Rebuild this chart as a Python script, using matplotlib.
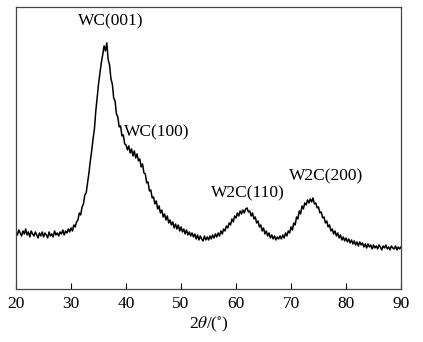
import numpy as np
import matplotlib.pyplot as plt

plt.rcParams['font.family'] = ['Liberation Serif', 'DejaVu Serif']
plt.rcParams['mathtext.fontset'] = 'stix'

# 2theta grid, 0.25 deg steps from 20 to 90
two_theta = np.arange(20, 90.001, 0.25)

# intensity (arb. units)
intensity = [
    57, 54, 59, 56, 53, 58, 55, 60, 54, 57, 52, 58, 55, 53, 57, 54, 51, 56, 53, 57,
    52, 56, 54, 51, 57, 53, 55, 52, 58, 54, 56, 53, 57, 55, 59, 54, 58, 56, 60, 57,
    61, 58, 64, 62, 67, 69, 76, 74, 82, 85, 94, 96, 106, 116, 128, 138, 150, 160, 178, 192,
    205, 216, 226, 234, 243, 238, 246, 229, 224, 210, 205, 191, 188, 175, 172, 162, 163, 153, 154, 145,
    144, 139, 143, 136, 140, 133, 138, 131, 135, 128, 130, 122, 125, 116, 115, 106, 107, 98, 99, 91,
    92, 85, 88, 80, 83, 76, 79, 72, 75, 69, 73, 66, 69, 64, 67, 61, 65, 60, 64, 58,
    62, 57, 60, 55, 59, 54, 57, 53, 56, 52, 55, 50, 54, 49, 53, 50, 48, 53, 49, 52,
    49, 53, 50, 54, 51, 55, 52, 56, 53, 58, 55, 60, 58, 63, 61, 66, 64, 70, 67, 73,
    71, 76, 73, 78, 75, 79, 76, 80, 81, 77, 78, 73, 76, 70, 72, 66, 68, 62, 64, 58,
    61, 55, 58, 53, 56, 51, 54, 50, 53, 49, 52, 50, 53, 50, 54, 51, 56, 53, 58, 56,
    62, 59, 66, 64, 72, 70, 78, 75, 83, 80, 86, 84, 89, 86, 90, 87, 91, 85, 86, 81,
    82, 76, 77, 71, 72, 66, 68, 62, 64, 58, 60, 55, 58, 53, 56, 51, 54, 49, 52, 48,
    51, 47, 50, 46, 49, 45, 48, 44, 47, 43, 47, 44, 46, 42, 45, 41, 45, 42, 44, 40,
    44, 41, 43, 40, 44, 42, 39, 43, 41, 44, 40, 42, 39, 43, 41, 40, 43, 39, 42, 40, 42,
]

# peak labels
peak_labels = ['WC(001)', 'WC(100)', 'W2C(110)', 'W2C(200)']
label_x = [37.3, 45.6, 62.2, 76.4]
label_y = [267, 157, 96, 113]

fig = plt.figure(figsize=(4.23, 3.42), dpi=100)
ax = fig.add_axes([0.038, 0.155, 0.910, 0.825])

ax.plot(two_theta, intensity, color='black', lw=1.1)

for lab, lx, ly in zip(peak_labels, label_x, label_y):
    ax.text(lx, ly, lab, ha='center', va='center', fontsize=12.5)

ax.set_xlim(20, 90)
ax.set_ylim(0, 282)
ax.set_xticks(np.arange(20, 91, 10))
ax.set_yticks([])
ax.tick_params(axis='x', direction='in', length=4, labelsize=12.5, pad=5)
for sp in ax.spines.values():
    sp.set_color('#444444')
    sp.set_linewidth(0.9)

ax.set_xlabel(r'2$\it{\theta}$/($^{\circ}$)', fontsize=12.5, labelpad=2)

fig.savefig('out.png', dpi=100)
